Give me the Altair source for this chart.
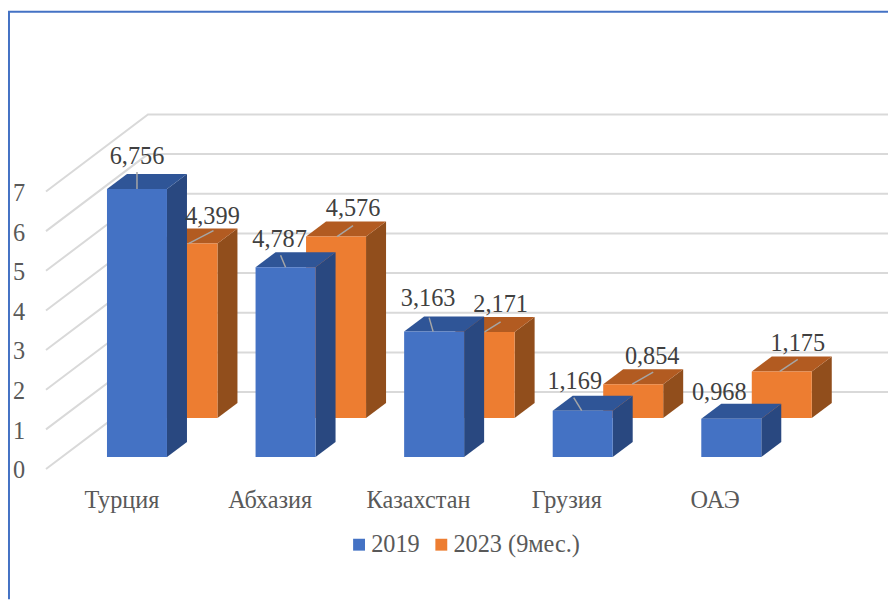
import altair as alt
import pandas as pd

categories = ["Турция", "Абхазия", "Казахстан", "Грузия", "ОАЭ"]
series_names = ["2019", "2023 (9мес.)"]
values_2019 = [6.756, 4.787, 3.163, 1.169, 0.968]
values_2023 = [4.399, 4.576, 2.171, 0.854, 1.175]
labels_2019 = ["6,756", "4,787", "3,163", "1,169", "0,968"]
labels_2023 = ["4,399", "4,576", "2,171", "0,854", "1,175"]
y_ticks = [0, 1, 2, 3, 4, 5, 6, 7]

# layout constants, in px of the chart canvas
W, H = 888, 594
FIT = 896 / 904          # the page is shrunk to fit the window
PX = 39.67               # px per unit of value
ZERO = 449               # y of value 0 on the front row
BAR_W = 60
DEPTH_X, DEPTH_Y = 20, 15
X0 = {0: 99, 1: 149.5}   # left edge of first bar per series
STEP = 148.6
ROW_Y = {0: 0, 1: 39}    # row lift of back series
# label centre and leader end offsets relative to the bar's top-front-left corner
LABEL_OFF = {0: [(30, -33), (24, -28), (24, -33.5), (22, -30), (18, -27)],
             1: [(55, -28), (47, -29), (46, -28), (49, -28), (46, -28.5)]}
LEAD_OFF = {0: [(30, -17, 30, 0), (25, -12, 30, 0), (25, -14, 29, 0), (21, -13, 29, 0), None],
            1: [(31, 0, 56, -13), (31, 0, 47, -11), (30, 0, 46, -10), (29, 0, 50, -12), (28, 0, 46, -12)]}

PX_C = PX / FIT
ZERO_C = ZERO / FIT - 2.55
sx = alt.Scale(domain=[0, W * FIT], nice=False, zero=False)
sy = alt.Scale(domain=[(ZERO_C - H) / PX_C, ZERO_C / PX_C], nice=False, zero=False)
X = lambda f="x": alt.X(f"{f}:Q", scale=sx, axis=None)
Y = lambda f="y": alt.Y(f"{f}:Q", scale=sy, axis=None)
u = lambda px: px / PX   # px offset into value units

vals = {0: values_2019, 1: values_2023}
txts = {0: labels_2019, 1: labels_2023}
front, side, top, lab, lead = {0: [], 1: []}, {0: [], 1: []}, {0: [], 1: []}, [], []
for s in (0, 1):
    for i, v in enumerate(vals[s]):
        l = X0[s] + STEP * i
        r = l + BAR_W
        b = u(ROW_Y[s])
        t = b + v
        d = u(DEPTH_Y)
        front[s].append(dict(series=series_names[s], x=l, x2=r, y=b, y2=t))
        side[s] += [dict(id=i, x=r, y=t, y2=b), dict(id=i, x=r + DEPTH_X, y=t + d, y2=b + d)]
        top[s] += [dict(id=i, x=l, y=t, y2=t), dict(id=i, x=l + DEPTH_X, y=t + d, y2=t),
                   dict(id=i, x=r, y=t + d, y2=t), dict(id=i, x=r + DEPTH_X, y=t + d, y2=t + d)]
        ox, oy = LABEL_OFF[s][i]
        lab.append(dict(x=l + ox, y=t - u(oy), text=txts[s][i]))
        if LEAD_OFF[s][i]:
            a, e, c, f = LEAD_OFF[s][i]
            k = f"{s}-{i}"
            lead += [dict(id=k, x=l + a, y=t - u(e), o=0), dict(id=k, x=l + c, y=t - u(f), o=1)]

grid = []
BACK_DX, BACK_DY, LEFT_X, RIGHT_X, FLOOR = 102, 77, 38, 883, u(-12)
for tick in y_ticks:
    v = tick + FLOOR
    grid += [dict(id=tick, x=LEFT_X, y=v, o=0),
             dict(id=tick, x=LEFT_X + BACK_DX, y=v + u(BACK_DY), o=1),
             dict(id=tick, x=RIGHT_X, y=v + u(BACK_DY), o=2)]

FONT = "Liberation Serif"
FS = 24.5
grid_layer = alt.Chart(pd.DataFrame(grid)).mark_line(color="#d9d9d9", strokeWidth=2).encode(
    x=X(), y=Y(), detail="id:N", order="o:Q")
ytick_layer = alt.Chart(pd.DataFrame({"t": y_ticks})).transform_calculate(
    y=f"datum.t + {FLOOR}", x="11").mark_text(
    font=FONT, fontSize=FS, color="#595959", align="center", baseline="middle", dy=2.5).encode(
    x=X(), y=Y(), text="t:Q")
cat_df = pd.DataFrame([dict(c=c, x=114 + 148.3 * i, y=u(ZERO - 493)) for i, c in enumerate(categories)])
cat_layer = alt.Chart(cat_df).mark_text(
    font=FONT, fontSize=FS, color="#595959", align="center", baseline="middle").encode(
    x=X(), y=Y(), text="c:N")

COL = {0: ("#4472c4", "#2f5597", "#294880"), 1: ("#ed7d31", "#b25b21", "#914e1c")}
def bars(s, legend):
    c = COL[s]
    area_side = alt.Chart(pd.DataFrame(side[s])).mark_area(color=c[2]).encode(
        x=X(), y=Y(), y2="y2:Q", detail="id:N")
    area_top = alt.Chart(pd.DataFrame(top[s])).mark_area(color=c[1]).encode(
        x=X(), y=Y(), y2="y2:Q", detail="id:N")
    f = alt.Chart(pd.DataFrame(front[s])).mark_bar(strokeWidth=0).encode(
        x=X(), x2="x2:Q", y=Y(), y2="y2:Q",
        color=alt.Color("series:N",
                        scale=alt.Scale(domain=series_names, range=[COL[0][0], COL[1][0]]),
                        legend=legend))
    return [area_side, area_top, f]

legend = alt.Legend(title=None, orient="none", legendX=342, legendY=526.5, direction="horizontal",
                    symbolType="square", symbolSize=144, symbolStrokeWidth=0, symbolOpacity=1,
                    labelFont=FONT, labelFontSize=FS, labelColor="#595959", labelOffset=0,
                    columnPadding=9, labelLimit=200)

lead_layer = alt.Chart(pd.DataFrame(lead)).mark_line(color="#a6a6a6", strokeWidth=1.5).encode(
    x=X(), y=Y(), detail="id:N", order="o:Q")
lab_layer = alt.Chart(pd.DataFrame(lab)).mark_text(
    font=FONT, fontSize=FS, color="#404040", align="center", baseline="middle", dy=1).encode(
    x=X(), y=Y(), text="text:N")

border_left = alt.Chart(pd.DataFrame({"a": [0]})).mark_rule(color="#4472c4", strokeWidth=2).encode(
    x=alt.value(1), y=alt.value(1), y2=alt.value(H))
border_top = alt.Chart(pd.DataFrame({"a": [0]})).mark_rule(color="#4472c4", strokeWidth=2).encode(
    x=alt.value(0), x2=alt.value(W), y=alt.value(1))

chart = alt.layer(
    grid_layer, ytick_layer, cat_layer, *bars(1, legend), *bars(0, legend),
    lead_layer, lab_layer, border_left, border_top
).properties(
    width=W, height=H, padding=0, autosize=alt.AutoSizeParams(type="none"), background="white"
).configure_view(stroke=None)

chart.save("out.html", embed_options={"renderer": "svg", "actions": False})
